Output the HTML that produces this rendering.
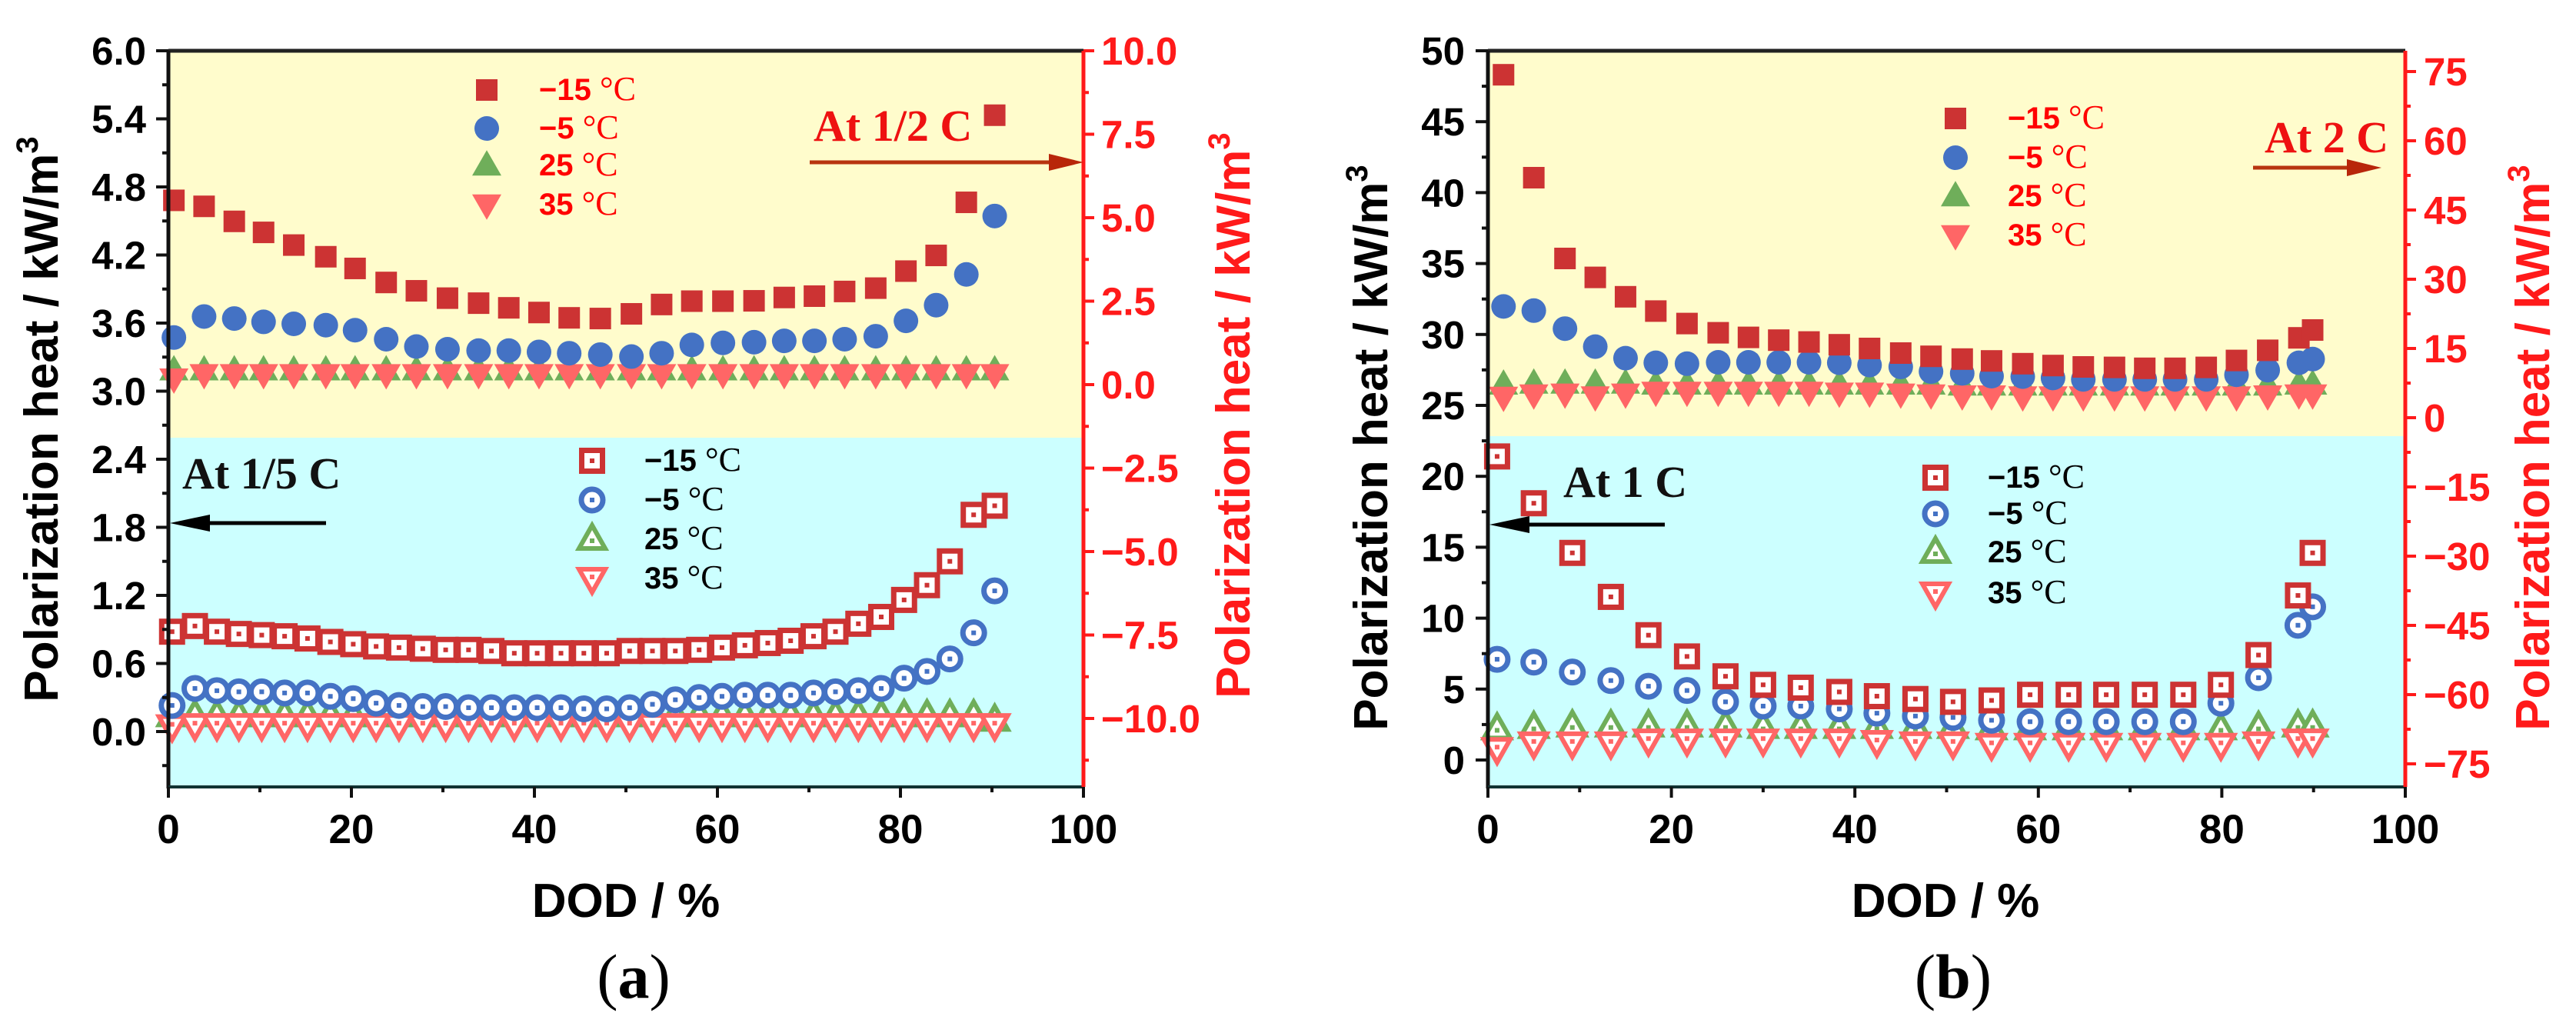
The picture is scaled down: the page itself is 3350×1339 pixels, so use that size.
<!DOCTYPE html>
<html><head><meta charset="utf-8"><style>
html,body{margin:0;padding:0;background:#fff;width:3350px;height:1339px;overflow:hidden}
</style></head><body>
<svg id="fig" xmlns="http://www.w3.org/2000/svg" width="3350" height="1339" viewBox="0 0 3350 1339" font-family="'Liberation Sans', sans-serif"></svg>
<script>
// ---------- Panel (a) data ----------
const aTopDod = [0.6,3.9,7.2,10.4,13.7,17.2,20.4,23.8,27.1,30.5,33.9,37.2,40.5,43.8,47.2,50.6,53.9,57.2,60.6,64.0,67.3,70.6,73.9,77.3,80.6,83.9,87.2,90.3];
const aTopM15 = [5.52,5.34,4.89,4.56,4.18,3.83,3.48,3.06,2.81,2.59,2.44,2.30,2.16,2.00,1.98,2.12,2.40,2.50,2.50,2.51,2.61,2.65,2.79,2.89,3.40,3.87,5.46,8.07];
const aTopM5 = [1.41,2.04,1.98,1.88,1.82,1.78,1.63,1.36,1.14,1.06,1.02,1.02,0.98,0.94,0.90,0.84,0.94,1.19,1.25,1.27,1.31,1.31,1.36,1.45,1.91,2.38,3.30,5.05];
const aTop25 = [0.43,0.43,0.43,0.43,0.43,0.43,0.43,0.43,0.43,0.43,0.43,0.43,0.43,0.43,0.43,0.43,0.43,0.43,0.43,0.43,0.43,0.43,0.43,0.43,0.43,0.43,0.43,0.43];
const aTop35 = [0.18,0.31,0.31,0.31,0.31,0.31,0.31,0.31,0.31,0.31,0.31,0.31,0.31,0.31,0.31,0.31,0.31,0.31,0.31,0.31,0.31,0.31,0.31,0.31,0.31,0.31,0.31,0.31];
const aBotDod = [0.4,2.9,5.3,7.7,10.2,12.7,15.2,17.7,20.2,22.7,25.2,27.8,30.3,32.8,35.3,37.8,40.3,42.9,45.4,47.9,50.4,52.9,55.4,58.0,60.5,63.0,65.5,68.0,70.5,72.9,75.4,77.9,80.4,82.9,85.4,88.0,90.3];
const aBotM15 = [0.88,0.93,0.88,0.86,0.85,0.84,0.82,0.79,0.77,0.75,0.74,0.73,0.72,0.72,0.71,0.69,0.69,0.69,0.69,0.69,0.71,0.71,0.71,0.72,0.74,0.76,0.78,0.80,0.84,0.88,0.95,1.01,1.16,1.29,1.50,1.91,1.99];
const aBotM5 = [0.23,0.38,0.36,0.35,0.35,0.34,0.34,0.31,0.29,0.25,0.23,0.22,0.22,0.21,0.21,0.21,0.21,0.21,0.20,0.20,0.21,0.24,0.28,0.30,0.31,0.32,0.32,0.32,0.34,0.35,0.36,0.38,0.47,0.53,0.64,0.87,1.24];
const aBot25 = [0.14,0.14,0.14,0.14,0.14,0.14,0.14,0.14,0.14,0.14,0.14,0.14,0.14,0.14,0.14,0.14,0.14,0.14,0.14,0.14,0.14,0.14,0.14,0.14,0.14,0.14,0.14,0.14,0.14,0.14,0.14,0.14,0.14,0.14,0.14,0.14,0.10];
const aBot35 = [0.05,0.06,0.06,0.06,0.06,0.06,0.06,0.06,0.06,0.06,0.06,0.06,0.06,0.06,0.06,0.06,0.06,0.06,0.06,0.06,0.06,0.06,0.06,0.06,0.06,0.06,0.06,0.06,0.06,0.06,0.06,0.06,0.06,0.06,0.06,0.06,0.06];
const aLeftTicks = ["0.0","0.6","1.2","1.8","2.4","3.0","3.6","4.2","4.8","5.4","6.0"];
const aRightTicks = ["−10.0","−7.5","−5.0","−2.5","0.0","2.5","5.0","7.5","10.0"];
// ---------- Panel (b) data ----------
const bTopDod = [1.7,5.0,8.4,11.7,15.0,18.3,21.7,25.1,28.4,31.7,35.0,38.3,41.6,45.0,48.3,51.7,54.9,58.3,61.6,64.9,68.3,71.6,74.9,78.3,81.6,85.0,88.4,89.9];
const bTopM15 = [74.3,52.0,34.5,30.4,26.2,23.1,20.4,18.4,17.4,16.8,16.4,15.8,15.0,14.0,13.3,12.7,12.3,11.7,11.3,11.0,10.9,10.7,10.7,10.9,12.4,14.6,17.3,19.0];
const bTopM5 = [24.1,23.2,19.3,15.4,12.9,11.9,11.7,12.0,12.0,12.0,12.0,11.9,11.4,11.0,10.0,9.6,9.0,8.9,8.6,8.3,8.3,8.3,8.3,8.3,9.3,10.3,11.9,12.7];
const bTop25 = [7.2,7.4,7.4,7.4,7.4,7.2,7.2,7.2,7.2,7.2,7.2,7.2,7.2,7.2,7.2,7.0,7.0,7.0,7.0,7.0,7.0,7.0,7.0,7.0,7.0,7.0,7.2,7.2];
const bTop35 = [4.5,5.0,5.2,4.6,5.2,5.6,5.6,5.6,5.6,5.6,5.6,5.4,5.4,5.2,5.0,4.8,4.8,4.6,4.6,4.6,4.6,4.6,4.6,4.6,4.6,4.8,5.0,5.0];
const bBotDod = [1.0,5.0,9.2,13.4,17.5,21.7,25.9,30.0,34.1,38.3,42.4,46.6,50.7,54.9,59.1,63.3,67.4,71.6,75.8,79.9,84.0,88.3,89.9];
const bBotM15 = [21.4,18.1,14.6,11.5,8.8,7.3,5.9,5.3,5.1,4.8,4.5,4.3,4.1,4.2,4.6,4.6,4.6,4.6,4.6,5.3,7.4,11.6,14.6];
const bBotM5 = [7.1,6.9,6.2,5.6,5.2,4.9,4.1,3.8,3.8,3.6,3.3,3.1,3.0,2.8,2.7,2.7,2.7,2.7,2.7,4.0,5.8,9.5,10.8];
const bBot25 = [2.2,2.3,2.4,2.4,2.4,2.4,2.4,2.3,2.3,2.3,2.3,2.3,2.3,2.2,2.2,2.2,2.2,2.2,2.2,2.2,2.3,2.4,2.4];
const bBot35 = [0.8,1.2,1.2,1.2,1.4,1.4,1.4,1.4,1.4,1.4,1.3,1.2,1.2,1.1,1.1,1.1,1.1,1.1,1.1,1.1,1.2,1.4,1.4];
const bLeftTicks = ["0","5","10","15","20","25","30","35","40","45","50"];
const bRightTicks = ["−75","−60","−45","−30","−15","0","15","30","45","60","75"];
const xTicks = ["0","20","40","60","80","100"];

const NS = "http://www.w3.org/2000/svg";
const svg = document.getElementById('fig');
const RED_SQ = "#cc3333", BLUE = "#4472c4", GREEN = "#6fae5a", PINK = "#ff6666", RAXIS = "#ff1a1a";
const SERIF = "'Liberation Serif', serif";

function mk(tag, attrs, parent) {
  const e = document.createElementNS(NS, tag);
  for (const k in attrs) e.setAttribute(k, attrs[k]);
  (parent || svg).appendChild(e);
  return e;
}

function marker(g, kind, open, cx, cy) {
  let e;
  if (kind === 'sq') {
    const s = open ? 27 : 28;
    e = mk('rect', {x: cx - s/2, y: cy - s/2, width: s, height: s, fill: open ? '#fff' : RED_SQ, stroke: open ? RED_SQ : 'none', 'stroke-width': 7}, g);
    if (open) mk('rect', {x: cx - 3, y: cy - 3, width: 6, height: 6, fill: RED_SQ}, g);
  } else if (kind === 'ci') {
    e = mk('circle', {cx: cx, cy: cy, r: open ? 14 : 16, fill: open ? '#fff' : BLUE, stroke: open ? BLUE : 'none', 'stroke-width': 7}, g);
    if (open) mk('rect', {x: cx - 3, y: cy - 3, width: 6, height: 6, fill: BLUE}, g);
  } else if (kind === 'tu') {
    const w = open ? 34 : 38, h = open ? 30 : 33;
    e = mk('polygon', {points: `${cx},${cy - h*0.6} ${cx - w/2},${cy + h*0.4} ${cx + w/2},${cy + h*0.4}`, fill: open ? '#fff' : GREEN, stroke: open ? GREEN : 'none', 'stroke-width': 6, 'stroke-linejoin': 'miter'}, g);
    if (open) mk('rect', {x: cx - 3, y: cy - 1, width: 6, height: 6, fill: GREEN}, g);
  } else {
    const w = open ? 34 : 38, h = open ? 30 : 33;
    e = mk('polygon', {points: `${cx - w/2},${cy - h*0.4} ${cx + w/2},${cy - h*0.4} ${cx},${cy + h*0.6}`, fill: open ? '#fff' : PINK, stroke: open ? PINK : 'none', 'stroke-width': 6}, g);
    if (open) mk('rect', {x: cx - 3, y: cy - 5, width: 6, height: 6, fill: PINK}, g);
  }
  return e;
}

function text(str, attrs, parent) {
  const t = mk('text', attrs, parent);
  t.textContent = str;
  return t;
}

function legendEntry(g, kind, open, mx, my, tx, label, color) {
  marker(g, kind, open, mx, my);
  const t = mk('text', {x: tx, y: my + 13, fill: color, 'font-size': 40, 'font-weight': 'bold'}, g);
  const s1 = mk('tspan', {}, t); s1.textContent = label + ' ';
  const s2 = mk('tspan', {'font-family': SERIF, 'font-weight': 'normal', 'font-size': 44}, t); s2.textContent = '°C';
}

function panel(cfg) {
  const P = mk('g', {});
  
  
  const X = v => cfg.xl + (v / 100) * (cfg.xr - cfg.xl);
  const YL = v => cfg.l0y + (v - cfg.l0) / (cfg.l1 - cfg.l0) * (cfg.l1y - cfg.l0y);
  const YR = v => cfg.r0y + (v - cfg.r0) / (cfg.r1 - cfg.r0) * (cfg.r1y - cfg.r0y);
  const bgT = mk('rect', {x: cfg.xl, y: cfg.top, width: cfg.xr - cfg.xl, height: cfg.split - cfg.top, fill: '#fffccc'}, P);
  
  
  const bgB = mk('rect', {x: cfg.xl, y: cfg.split, width: cfg.xr - cfg.xl, height: cfg.bottom - cfg.split, fill: '#ccffff'}, P);
  
  

  const series = [
    [cfg.botDod, cfg.bot25, 'tu', true, YL, 'series-25c-low-rate'],
    [cfg.botDod, cfg.bot35, 'td', true, YL, 'series-35c-low-rate'],
    [cfg.botDod, cfg.botM5, 'ci', true, YL, 'series-minus5c-low-rate'],
    [cfg.botDod, cfg.botM15, 'sq', true, YL, 'series-minus15c-low-rate'],
    [cfg.topDod, cfg.top25, 'tu', false, YR, 'series-25c-high-rate'],
    [cfg.topDod, cfg.top35, 'td', false, YR, 'series-35c-high-rate'],
    [cfg.topDod, cfg.topM5, 'ci', false, YR, 'series-minus5c-high-rate'],
    [cfg.topDod, cfg.topM15, 'sq', false, YR, 'series-minus15c-high-rate']
  ];
  series.forEach(s => {
    const g = mk('g', {}, P);
    
    
    s[0].forEach((d, i) => {
      const m = marker(g, s[2], s[3], X(d), s[4](s[1][i]));
      
      
    });
  });

  const ax = mk('g', {}, P);
  
  
  mk('line', {x1: cfg.xl, y1: cfg.top, x2: cfg.xr, y2: cfg.top, stroke: '#222', 'stroke-width': 5}, ax);
  mk('line', {x1: cfg.xl, y1: cfg.top, x2: cfg.xl, y2: cfg.bottom + 2, stroke: '#111', 'stroke-width': 5}, ax);
  mk('line', {x1: cfg.xl, y1: cfg.bottom, x2: cfg.xr, y2: cfg.bottom, stroke: '#113333', 'stroke-width': 4}, ax);
  mk('line', {x1: cfg.xr, y1: cfg.top, x2: cfg.xr, y2: cfg.bottom, stroke: RAXIS, 'stroke-width': 5}, ax);
  xTicks.forEach((lab, i) => {
    const v = i * 20, x = X(v);
    mk('line', {x1: x, y1: cfg.bottom, x2: x, y2: cfg.bottom + 14, stroke: '#111', 'stroke-width': 4}, ax);
    if (i < xTicks.length - 1) mk('line', {x1: X(v + 10), y1: cfg.bottom, x2: X(v + 10), y2: cfg.bottom + 7, stroke: '#111', 'stroke-width': 4}, ax);
    const t = text(lab, {x: x, y: cfg.bottom + 73, 'text-anchor': 'middle', 'font-size': 53, 'font-weight': 'bold', fill: '#000'}, ax);
    
    
  });
  cfg.leftTicks.forEach((lab, i) => {
    const v = cfg.l0 + i * cfg.lstep, y = YL(v);
    mk('line', {x1: cfg.xl, y1: y, x2: cfg.xl - 16, y2: y, stroke: '#111', 'stroke-width': 4}, ax);
    const ym = YL(v + cfg.lstep / 2);
    if (ym > cfg.top + 2) mk('line', {x1: cfg.xl, y1: ym, x2: cfg.xl - 8, y2: ym, stroke: '#111', 'stroke-width': 4}, ax);
    const ymb = YL(v - cfg.lstep / 2);
    if (i === 0 && ymb < cfg.bottom) mk('line', {x1: cfg.xl, y1: ymb, x2: cfg.xl - 8, y2: ymb, stroke: '#111', 'stroke-width': 4}, ax);
    const t = text(lab, {x: cfg.ltx, y: y + 18, 'text-anchor': 'end', 'font-size': 51, 'font-weight': 'bold', fill: '#000'}, ax);
    
    
  });
  cfg.rightTicks.forEach((lab, i) => {
    const v = cfg.r0 + i * cfg.rstep, y = YR(v);
    mk('line', {x1: cfg.xr, y1: y, x2: cfg.xr + 14, y2: y, stroke: RAXIS, 'stroke-width': 4}, ax);
    const ym = YR(v + cfg.rstep / 2);
    if (ym > cfg.top + 2) mk('line', {x1: cfg.xr, y1: ym, x2: cfg.xr + 7, y2: ym, stroke: RAXIS, 'stroke-width': 4}, ax);
    const ymb = YR(v - cfg.rstep / 2);
    if (i === 0 && ymb < cfg.bottom) mk('line', {x1: cfg.xr, y1: ymb, x2: cfg.xr + 7, y2: ymb, stroke: RAXIS, 'stroke-width': 4}, ax);
    const t = text(lab, {x: cfg.rtx, y: y + 18, 'font-size': 51, 'font-weight': 'bold', fill: RAXIS}, ax);
    
    
  });
  const lt = mk('text', {x: 0, y: 0, transform: `translate(${cfg.ltitleX},${cfg.ltitleY}) rotate(-90)`, 'text-anchor': 'middle', 'font-size': 62, 'font-weight': 'bold', fill: '#000'}, P);
  lt.innerHTML = 'Polarization heat / kW/m<tspan dy="-26" font-size="40">3</tspan>';
  
  
  const rt = mk('text', {x: 0, y: 0, transform: `translate(${cfg.rtitleX},${cfg.rtitleY}) rotate(-90)`, 'text-anchor': 'middle', 'font-size': 62, 'font-weight': 'bold', fill: RAXIS}, P);
  rt.innerHTML = 'Polarization heat / kW/m<tspan dy="-26" font-size="40">3</tspan>';
  
  
  const xt = text('DOD / %', {x: cfg.xtitleX, y: 1192, 'text-anchor': 'middle', 'font-size': 62, 'font-weight': 'bold', fill: '#000'}, P);
  
  
  const cap = mk('text', {x: cfg.xtitleX + 10, y: 1297, 'text-anchor': 'middle', 'font-size': 82, fill: '#000', 'font-family': SERIF}, P);
  cap.innerHTML = '(<tspan font-weight="bold">' + cfg.caption + '</tspan>)';
  
  

  const lgT = mk('g', {}, P);
  
  
  const labs = ['−15', '−5', '25', '35'], kinds = ['sq', 'ci', 'tu', 'td'];
  kinds.forEach((k, i) => legendEntry(lgT, k, false, cfg.lgTx, cfg.lgTy[i], cfg.lgTx + 68, labs[i], '#ff0000'));
  const lgB = mk('g', {}, P);
  
  
  kinds.forEach((k, i) => legendEntry(lgB, k, true, cfg.lgBx, cfg.lgBy[i], cfg.lgBx + 68, labs[i], '#000'));

  const a1 = text(cfg.hiLabel, {x: cfg.hiX, y: cfg.hiY, 'font-size': 58, 'font-weight': 'bold', fill: '#ee1111', 'font-family': SERIF}, P);
  
  
  const ar1 = mk('g', {}, P);
  
  
  mk('line', {x1: cfg.hiA0, y1: cfg.hiAy, x2: cfg.hiA1 - 40, y2: cfg.hiAy, stroke: '#b8340f', 'stroke-width': 5}, ar1);
  mk('polygon', {points: `${cfg.hiA1},${cfg.hiAy} ${cfg.hiA1 - 45},${cfg.hiAy - 11} ${cfg.hiA1 - 45},${cfg.hiAy + 11}`, fill: '#b8260a'}, ar1);
  const a2 = text(cfg.loLabel, {x: cfg.loX, y: cfg.loY, 'font-size': 58, 'font-weight': 'bold', fill: '#111', 'font-family': SERIF}, P);
  
  
  const ar2 = mk('g', {}, P);
  
  
  mk('line', {x1: cfg.loA0, y1: cfg.loAy, x2: cfg.loA1 + 40, y2: cfg.loAy, stroke: '#000', 'stroke-width': 5}, ar2);
  mk('polygon', {points: `${cfg.loA1},${cfg.loAy} ${cfg.loA1 + 52},${cfg.loAy - 11} ${cfg.loA1 + 52},${cfg.loAy + 11}`, fill: '#000'}, ar2);
}

panel({
  name: 'panel-a', caption: 'a',
  xl: 219, xr: 1409, top: 66, bottom: 1023, split: 569,
  l0: 0, l1: 6, l0y: 951, l1y: 66, lstep: 0.6, leftTicks: aLeftTicks, ltx: 190,
  r0: -10, r1: 10, r0y: 934, r1y: 66, rstep: 2.5, rightTicks: aRightTicks, rtx: 1432,
  topDod: aTopDod, topM15: aTopM15, topM5: aTopM5, top25: aTop25, top35: aTop35,
  botDod: aBotDod, botM15: aBotM15, botM5: aBotM5, bot25: aBot25, bot35: aBot35,
  ltitleX: 75, ltitleY: 545, rtitleX: 1625, rtitleY: 540, xtitleX: 814,
  lgTx: 633, lgTy: [117, 167, 215, 266], lgBx: 770, lgBy: [599, 650, 701, 752],
  hiLabel: 'At 1/2 C', hiX: 1058, hiY: 183, hiA0: 1053, hiA1: 1409, hiAy: 211,
  loLabel: 'At 1/5 C', loX: 237, loY: 635, loA0: 424, loA1: 221, loAy: 680
});
panel({
  name: 'panel-b', caption: 'b',
  xl: 1935, xr: 3128, top: 66, bottom: 1023, split: 567,
  l0: 0, l1: 50, l0y: 988, l1y: 66, lstep: 5, leftTicks: bLeftTicks, ltx: 1905,
  r0: -75, r1: 75, r0y: 993, r1y: 93, rstep: 15, rightTicks: bRightTicks, rtx: 3152,
  topDod: bTopDod, topM15: bTopM15, topM5: bTopM5, top25: bTop25, top35: bTop35,
  botDod: bBotDod, botM15: bBotM15, botM5: bBotM5, bot25: bBot25, bot35: bBot35,
  ltitleX: 1804, ltitleY: 582, rtitleX: 3315, rtitleY: 582, xtitleX: 2530,
  lgTx: 2543, lgTy: [154, 205, 255, 306], lgBx: 2517, lgBy: [621, 668, 718, 771],
  hiLabel: 'At 2 C', hiX: 2945, hiY: 198, hiA0: 2930, hiA1: 3097, hiAy: 218,
  loLabel: 'At 1 C', loX: 2033, loY: 646, loA0: 2165, loA1: 1937, loAy: 682
});
</script>
</body></html>
